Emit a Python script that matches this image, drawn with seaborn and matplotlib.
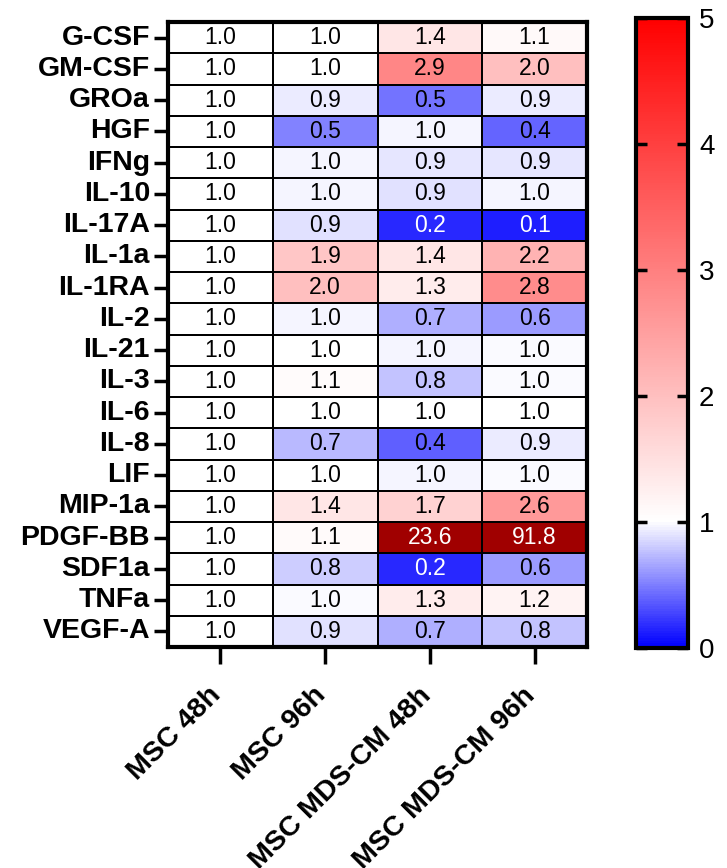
import matplotlib
matplotlib.use("Agg")
import matplotlib.pyplot as plt
import matplotlib.transforms as mtransforms
import numpy as np
import pandas as pd
import seaborn as sns
from matplotlib.colors import LinearSegmentedColormap, Normalize

# Data (fold change vs MSC 48h)
cytokines = [
    "G-CSF", "GM-CSF", "GROa", "HGF", "IFNg", "IL-10", "IL-17A", "IL-1a",
    "IL-1RA", "IL-2", "IL-21", "IL-3", "IL-6", "IL-8", "LIF", "MIP-1a",
    "PDGF-BB", "SDF1a", "TNFa", "VEGF-A",
]
conditions = ["MSC 48h", "MSC 96h", "MSC MDS-CM 48h", "MSC MDS-CM 96h"]
msc_48h = [1.0] * 20
msc_96h = [1.0, 1.0, 0.93, 0.52, 0.97, 0.96, 0.88, 1.9, 2.0, 0.96,
           1.01, 1.06, 1.0, 0.74, 1.0, 1.4, 1.08, 0.82, 0.98, 0.88]
mds_48h = [1.4, 2.9, 0.46, 0.96, 0.9, 0.88, 0.17, 1.4, 1.3, 0.7,
           0.97, 0.78, 1.0, 0.38, 0.96, 1.7, 23.6, 0.17, 1.3, 0.7]
mds_96h = [1.1, 2.0, 0.93, 0.4, 0.9, 0.97, 0.12, 2.2, 2.8, 0.62,
           0.98, 0.98, 1.0, 0.93, 0.98, 2.6, 91.8, 0.62, 1.2, 0.78]
cbar_ticks = [0, 1, 2, 3, 4, 5]

plt.rcParams["font.family"] = ["Liberation Sans", "DejaVu Sans"]

df = pd.DataFrame(
    np.column_stack([msc_48h, msc_96h, mds_48h, mds_96h]),
    index=cytokines,
    columns=conditions,
)

# blue at 0, white at 1, red at 5 on a linear scale
cmap = LinearSegmentedColormap.from_list(
    "bwr_prism", [(0, "#0000ff"), (0.2, "#ffffff"), (1, "#ff0000")]
)
cmap.set_over("#a00000")
norm = Normalize(vmin=0, vmax=5)

fig = plt.figure(figsize=(7.27, 8.68), dpi=100)
ax = fig.add_axes([168 / 727, 1 - 647 / 868, 419 / 727, 625 / 868])
cax = fig.add_axes([636 / 727, 1 - 648 / 868, 52 / 727, 630 / 868])

sns.heatmap(
    df,
    ax=ax,
    cbar_ax=cax,
    cmap=cmap,
    norm=norm,
    annot=True,
    fmt=".1f",
    annot_kws={"fontsize": 16.5},
    linewidths=1.2,
    linecolor="black",
    cbar_kws={"ticks": cbar_ticks},
)

# Text colour: white on strong blue / overflow cells
for text, value in zip(ax.texts, df.values.ravel()):
    text.set_color("white" if (value < 0.3 or value > 5) else "black")

for spine in ax.spines.values():
    spine.set_visible(True)
    spine.set_linewidth(3)
    spine.set_color("black")

ax.tick_params(axis="y", length=10, width=2.5, pad=3, left=True)
ax.tick_params(axis="x", length=12, width=2.5, pad=20, bottom=True)
ax.set_yticklabels(cytokines, rotation=0, fontsize=20.5, fontweight="bold")
ax.set_xticklabels(conditions, rotation=45, ha="right", va="center",
                   rotation_mode="anchor", fontsize=20.5, fontweight="bold")
shift = mtransforms.ScaledTranslation(-3 / 100, 0, fig.dpi_scale_trans)
for label in ax.get_xticklabels():
    label.set_transform(label.get_transform() + shift)
ax.set_xlabel("")
ax.set_ylabel("")

cbar = ax.collections[0].colorbar
cbar.outline.set_linewidth(3)
cbar.outline.set_edgecolor("black")
cax.yaxis.set_ticks_position("both")
cax.tick_params(axis="y", which="both", direction="in", length=8, width=2.5,
                left=True, right=True, labelsize=20, pad=8,
                labelleft=False, labelright=True)

fig.savefig("out.png", dpi=100)
